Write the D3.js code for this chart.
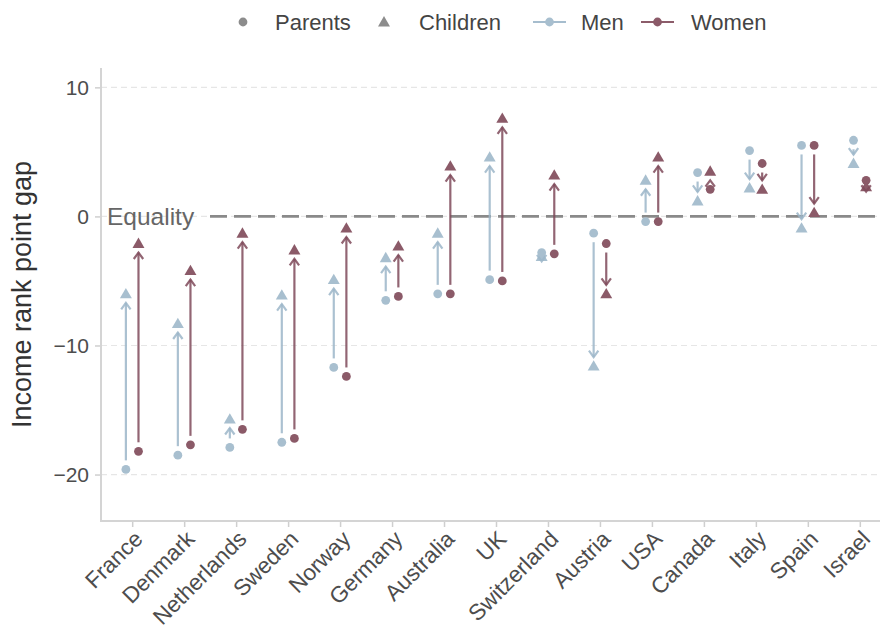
<!DOCTYPE html>
<html>
<head>
<meta charset="utf-8">
<script src="https://cdn.jsdelivr.net/npm/d3@7"></script>
<style>
  html, body { margin: 0; padding: 0; background: #fff; }
  svg { display: block; }
  text { font-family: "Liberation Sans", Arial, Helvetica, sans-serif; }
</style>
</head>
<body>
<svg id="chart" width="880" height="625"></svg>
<script>
// ---- Data ----
const countries = ["France","Denmark","Netherlands","Sweden","Norway","Germany","Australia","UK","Switzerland","Austria","USA","Canada","Italy","Spain","Israel"];
const menParents    = [-19.6,-18.5,-17.9,-17.5,-11.7,-6.5,-6.0,-4.9,-2.8,-1.3,-0.4, 3.4, 5.1, 5.5, 5.9];
const menChildren   = [ -6.0, -8.3,-15.7, -6.1, -4.9,-3.2,-1.3, 4.6,-3.1,-11.6, 2.8, 1.2, 2.2,-0.9, 4.1];
const womenParents  = [-18.2,-17.7,-16.5,-17.2,-12.4,-6.2,-6.0,-5.0,-2.9,-2.1,-0.4, 2.1, 4.1, 5.5, 2.8];
const womenChildren = [ -2.1, -4.2, -1.3, -2.6, -0.9,-2.3, 3.9, 7.6, 3.2,-6.0, 4.6, 3.5, 2.1, 0.3, 2.3];
const yTicks = [-20, -10, 0, 10];
const groups = ["Men", "Women"];
const legendShapes = ["Parents", "Children"];

// ---- Styles ----
const colors = { Men: "#a8bfcf", Women: "#8b5a68" };
const lineColors = { Men: "#9cb6c9", Women: "#7f4a5a" };
const grey = "#8c8c8c";

const svg = d3.select("#chart");

const plot = { left: 101, right: 891, top: 68, bottom: 521 };
const y = d3.scaleLinear().domain([-23.6, 11.5]).range([plot.bottom, plot.top]);
const x = d3.scalePoint().domain(countries).range([plot.left, plot.right]).padding(0.6);
const dodge = d3.scalePoint().domain(groups).range([-6.3, 6.3]);

// gridlines
svg.append("g").selectAll("line").data(yTicks).join("line")
  .attr("x1", plot.left).attr("x2", 880)
  .attr("y1", d => y(d)).attr("y2", d => y(d))
  .attr("stroke", "#e6e6e6").attr("stroke-width", 1.2).attr("stroke-dasharray", "6 4");

// equality line
svg.append("line")
  .attr("x1", 210).attr("x2", 880).attr("y1", y(0)).attr("y2", y(0))
  .attr("stroke", "#8a8a8a").attr("stroke-width", 2.6).attr("stroke-dasharray", "17 7");
svg.append("text").attr("x", 107).attr("y", y(0)).attr("dy", "0.36em")
  .attr("font-size", 24.5).attr("fill", "#666").text("Equality");

// axes
const yAxis = d3.axisLeft(y).tickValues(yTicks).tickSize(6).tickPadding(6)
  .tickFormat(d => d < 0 ? "\u2212" + Math.abs(d) : String(d));
const gy = svg.append("g").attr("transform", `translate(${plot.left},0)`).call(yAxis);
gy.select(".domain").remove();
gy.selectAll(".tick line").attr("stroke", "#cfcfcf").attr("stroke-width", 1.5);
gy.selectAll(".tick text").attr("font-size", 21).attr("fill", "#4d4d4d")
  .style("font-family", '"Liberation Sans", Arial, sans-serif');

const xAxis = d3.axisBottom(x).tickSize(6).tickPadding(4);
const gx = svg.append("g").attr("transform", `translate(0,${plot.bottom})`).call(xAxis);
gx.select(".domain").remove();
gx.selectAll(".tick line").attr("stroke", "#cfcfcf").attr("stroke-width", 1.5);
gx.selectAll(".tick text")
  .attr("font-size", 22.5).attr("fill", "#4d4d4d")
  .style("font-family", '"Liberation Sans", Arial, sans-serif')
  .attr("text-anchor", "end")
  .attr("dy", null).attr("y", null)
  .attr("transform", "translate(0,8) rotate(-45)")
  .attr("dominant-baseline", "hanging");

svg.append("line").attr("x1", plot.left).attr("x2", plot.left)
  .attr("y1", plot.top).attr("y2", plot.bottom + 1)
  .attr("stroke", "#d4d4d4").attr("stroke-width", 2);
svg.append("line").attr("x1", plot.left - 1).attr("x2", 880)
  .attr("y1", plot.bottom).attr("y2", plot.bottom)
  .attr("stroke", "#d4d4d4").attr("stroke-width", 2);

// y title
svg.append("text")
  .attr("transform", `translate(31,${(plot.top + plot.bottom) / 2}) rotate(-90)`)
  .attr("text-anchor", "middle").attr("font-size", 27).attr("fill", "#333")
  .text("Income rank point gap");

// ---- Marks ----
const rows = [];
countries.forEach((c, i) => {
  rows.push({ country: c, group: "Men", parent: menParents[i], child: menChildren[i] });
  rows.push({ country: c, group: "Women", parent: womenParents[i], child: womenChildren[i] });
});
const px = d => x(d.country) + dodge(d.group);

const triangle = d3.symbol().type(d3.symbolTriangle).size(62);
const marks = svg.append("g");
marks.selectAll("circle").data(rows).join("circle")
  .attr("cx", px).attr("cy", d => y(d.parent)).attr("r", 4.4)
  .attr("fill", d => colors[d.group]);
marks.selectAll("path.child").data(rows).join("path").attr("class", "child")
  .attr("d", triangle)
  .attr("transform", d => `translate(${px(d)},${y(d.child) + 1})`)
  .attr("fill", d => colors[d.group]);

// arrows
const s = 9, headLen = 8, headAng = 36 * Math.PI / 180;
const arrows = svg.append("g").attr("fill", "none").attr("stroke-width", 2.2)
  .attr("stroke-linecap", "butt").attr("stroke-linejoin", "miter");
rows.forEach(d => {
  const xx = px(d);
  const y0 = y(d.parent), y1 = y(d.child);
  const dir = y1 > y0 ? 1 : -1;
  const L = Math.abs(y1 - y0);
  let a, b;
  if (L >= 2 * s - 0.5) { a = y0 + dir * s; b = y1 - dir * s; }
  else { b = y1 + dir * 5; a = b; }
  const g = arrows.append("g").attr("stroke", lineColors[d.group]).attr("stroke-opacity", 0.85);
  if (Math.abs(b - a) > 0.1) {
    g.append("line").attr("x1", xx).attr("x2", xx).attr("y1", a).attr("y2", b);
  }
  const dy = headLen * Math.cos(headAng), dx = headLen * Math.sin(headAng);
  g.append("path").attr("d", `M${xx - dx},${b - dir * dy}L${xx},${b}L${xx + dx},${b - dir * dy}`);
});

// ---- Legend ----
const ly = 22;
const leg = svg.append("g");
leg.append("circle").attr("cx", 243).attr("cy", ly).attr("r", 4.4).attr("fill", grey);
leg.append("text").attr("x", 275).attr("y", ly).attr("dy", "0.36em").attr("font-size", 22)
  .attr("fill", "#444").text(legendShapes[0]);
leg.append("path").attr("d", triangle).attr("transform", `translate(384,${ly + 1})`).attr("fill", grey);
leg.append("text").attr("x", 419).attr("y", ly).attr("dy", "0.36em").attr("font-size", 22)
  .attr("fill", "#444").text(legendShapes[1]);
const legItems = [{ g: groups[0], x0: 533, tx: 581 }, { g: groups[1], x0: 641, tx: 691 }];
legItems.forEach(it => {
  leg.append("line").attr("x1", it.x0).attr("x2", it.x0 + 33).attr("y1", ly).attr("y2", ly)
    .attr("stroke", lineColors[it.g]).attr("stroke-width", 2.2).attr("stroke-opacity", 0.9);
  leg.append("circle").attr("cx", it.x0 + 16.5).attr("cy", ly).attr("r", 4.4).attr("fill", colors[it.g]);
  leg.append("text").attr("x", it.tx).attr("y", ly).attr("dy", "0.36em").attr("font-size", 22)
    .attr("fill", "#444").text(it.g);
});
</script>
</body>
</html>
